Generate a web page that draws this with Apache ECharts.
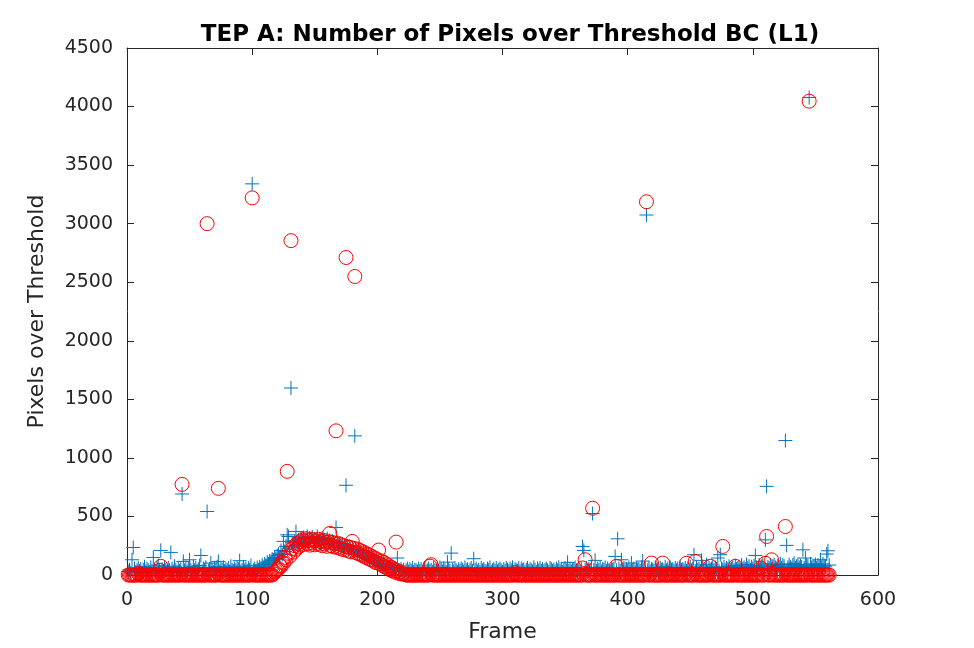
<!DOCTYPE html>
<html lang="en">
<head>
    <meta charset="UTF-8">
    <title>TEP A: Number of Pixels over Threshold BC (L1)</title>
    <script src="https://cdn.jsdelivr.net/npm/echarts@6/dist/echarts.min.js"></script>
    <style>
        html, body { margin: 0; padding: 0; background: #fff; }
        #chart { width: 974px; height: 648px; }
    </style>
</head>
<body>
    <div id="chart"></div>
    <script>
        // first frame number; values below are one per frame
        const firstFrame = 1;
        const xTicks = [0, 100, 200, 300, 400, 500, 600];
        const yTicks = [0, 500, 1000, 1500, 2000, 2500, 3000, 3500, 4000, 4500];

        // blue '+' series
        const bluePlus = [
            30, 45, 20, 130, 235, 55, 25, 40, 60, 35, 50, 20, 45, 70, 30, 55, 40, 25, 65, 35,          // 1-20
            150, 45, 30, 60, 80, 40, 210, 50, 35, 70, 45, 25, 60, 40, 193, 55, 30, 75, 45, 20,         // 21-40
            60, 35, 50, 692, 116, 40, 65, 30, 55, 130, 45, 25, 70, 40, 60, 35, 50, 80, 167, 30,        // 41-60
            55, 40, 65, 542, 35, 50, 102, 45, 25, 60, 40, 70, 116, 30, 55, 45, 65, 35, 50, 40,         // 61-80
            60, 30, 75, 45, 35, 55, 40, 65, 50, 122, 30, 45, 70, 40, 55, 35, 60, 45, 80, 3340,         // 81-100
            40, 55, 35, 65, 45, 70, 50, 85, 60, 95, 75, 110, 90, 120, 105, 135, 125, 150, 140, 165,    // 101-120
            180, 150, 210, 175, 287, 200, 245, 343, 329, 230, 1597, 275, 245, 290, 371, 260, 300, 270, 315, 285, // 121-140
            320, 280, 305, 330, 275, 315, 290, 325, 270, 310, 295, 330, 280, 305, 265, 315, 290, 300, 260, 310,  // 141-160
            280, 295, 255, 290, 270, 250, 406, 280, 240, 270, 235, 265, 225, 255, 766, 240, 215, 245, 205, 235,  // 161-180
            200, 1188, 215, 185, 205, 170, 195, 160, 185, 150, 170, 140, 160, 130, 150, 120, 135, 105, 125, 95,  // 181-200
            110, 85, 100, 75, 90, 65, 80, 60, 70, 50, 65, 45, 55, 60, 45, 145, 40, 35, 50, 30,         // 201-220
            45, 25, 40, 55, 30, 50, 35, 60, 25, 45, 40, 30, 55, 35, 50, 25, 45, 60, 30, 40,            // 221-240
            55, 35, 45, 25, 60, 40, 30, 50, 35, 65, 45, 30, 55, 40, 25, 110, 50, 35, 187, 45,          // 241-260
            30, 60, 40, 25, 50, 35, 55, 45, 30, 65, 40, 50, 25, 45, 60, 35, 139, 40, 55, 30,           // 261-280
            45, 25, 60, 40, 50, 35, 30, 55, 45, 65, 25, 40, 50, 35, 60, 30, 45, 55, 40, 25,            // 281-300
            50, 35, 60, 45, 30, 55, 40, 65, 25, 50, 45, 35, 60, 30, 55, 40, 50, 25, 45, 60,            // 301-320
            35, 50, 40, 30, 65, 45, 25, 55, 40, 60, 35, 50, 30, 45, 55, 40, 25, 60, 50, 35,            // 321-340
            45, 30, 55, 40, 65, 35, 50, 25, 45, 60, 40, 108, 35, 55, 30, 50, 45, 65, 40, 35,           // 341-360
            55, 30, 50, 244, 210, 45, 60, 35, 50, 40, 65, 525, 45, 125, 35, 55, 40, 60, 30, 50,        // 361-380
            45, 65, 35, 55, 40, 30, 60, 45, 50, 159, 40, 309, 55, 35, 130, 45, 60, 30, 50, 40,         // 381-400
            65, 35, 102, 45, 55, 30, 60, 40, 50, 35, 65, 119, 45, 55, 3074, 40, 60, 30, 50, 45,        // 401-420
            35, 65, 40, 55, 30, 60, 45, 50, 35, 70, 40, 55, 30, 65, 45, 50, 35, 60, 40, 55,            // 421-440
            30, 65, 45, 50, 40, 60, 35, 55, 45, 70, 40, 50, 173, 35, 60, 45, 55, 30, 125, 65,          // 441-460
            40, 50, 88, 35, 60, 45, 55, 70, 40, 65, 50, 145, 35, 173, 55, 45, 70, 40, 60, 50,          // 461-480
            75, 45, 55, 65, 40, 80, 50, 60, 70, 45, 85, 55, 65, 50, 90, 60, 75, 45, 70, 55,            // 481-500
            80, 167, 65, 50, 85, 60, 75, 95, 55, 300, 757, 70, 60, 85, 50, 75, 90, 65, 55, 80,         // 501-520
            70, 95, 60, 85, 75, 1148, 253, 65, 90, 70, 55, 85, 100, 60, 75, 90, 65, 80, 70, 215,       // 521-540
            60, 145, 85, 75, 4077, 95, 65, 80, 70, 90, 60, 85, 75, 130, 65, 95, 80, 70, 179, 207,      // 541-560
            85                                                                                          // 561
        ];

        // red 'o' series
        const redCircle = [
            0, 0, 0, 0, 0, 0, 0, 0, 15, 0, 0, 0, 0, 0, 0, 0, 0, 0, 0, 0,                 // 1-20
            0, 0, 0, 0, 0, 40, 74, 0, 0, 0, 0, 0, 0, 0, 0, 0, 0, 0, 0, 0,                // 21-40
            0, 0, 0, 774, 0, 0, 0, 0, 0, 0, 0, 0, 0, 0, 0, 0, 0, 0, 0, 0,                // 41-60
            0, 0, 0, 3000, 0, 0, 0, 0, 0, 0, 0, 0, 740, 0, 0, 0, 0, 0, 0, 0,             // 61-80
            0, 0, 0, 0, 0, 0, 0, 0, 0, 0, 0, 0, 0, 0, 0, 0, 0, 0, 0, 3220,               // 81-100
            0, 0, 0, 0, 0, 0, 0, 0, 0, 0, 0, 0, 0, 0, 0, 0, 10, 25, 35, 45,              // 101-120
            55, 80, 75, 110, 100, 150, 130, 885, 185, 160, 2855, 225, 195, 250, 220, 270, 240, 285, 255, 300, // 121-140
            262, 290, 310, 268, 295, 255, 305, 275, 300, 258, 292, 270, 305, 262, 288, 250, 296, 265, 280, 245, // 141-160
            285, 355, 250, 278, 240, 270, 1231, 235, 268, 228, 258, 220, 250, 215, 2711, 242, 205, 236, 198, 287, // 161-180
            228, 2549, 190, 222, 182, 210, 172, 200, 160, 190, 150, 178, 140, 168, 130, 155, 118, 145, 105, 132, // 181-200
            213, 95, 120, 82, 108, 70, 95, 58, 80, 45, 66, 35, 52, 25, 281, 38, 15, 25, 8, 12, // 201-220
            10, 5, 0, 0, 0, 0, 0, 0, 0, 0, 0, 0, 0, 0, 0, 0, 0, 0, 0, 0,                 // 221-240
            0, 76, 88, 0, 0, 0, 0, 0, 0, 0, 0, 0, 0, 0, 0, 0, 0, 0, 0, 0,                // 241-260
            0, 0, 0, 0, 0, 0, 0, 0, 0, 0, 0, 0, 0, 0, 0, 0, 0, 0, 0, 0,                  // 261-280
            0, 0, 0, 0, 0, 0, 0, 0, 0, 0, 0, 0, 0, 0, 0, 0, 0, 0, 0, 0,                  // 281-300
            0, 0, 0, 0, 0, 0, 0, 0, 0, 20, 0, 0, 0, 0, 0, 0, 0, 0, 0, 0,                 // 301-320
            0, 0, 0, 0, 0, 0, 0, 0, 0, 0, 0, 0, 0, 0, 0, 0, 0, 0, 0, 0,                  // 321-340
            0, 0, 0, 0, 0, 0, 0, 0, 0, 0, 0, 0, 0, 0, 0, 0, 0, 0, 0, 0,                  // 341-360
            0, 0, 0, 60, 0, 130, 0, 0, 0, 0, 0, 570, 0, 0, 0, 0, 0, 0, 0, 0,             // 361-380
            0, 0, 0, 0, 0, 0, 0, 0, 0, 0, 74, 0, 0, 0, 0, 0, 0, 0, 0, 0,                 // 381-400
            0, 0, 0, 0, 0, 0, 0, 0, 0, 0, 0, 0, 0, 0, 3187, 0, 0, 0, 102, 0,             // 401-420
            0, 0, 0, 0, 0, 0, 0, 102, 0, 0, 0, 0, 0, 0, 0, 0, 0, 0, 0, 0,                // 421-440
            0, 0, 0, 0, 0, 0, 100, 0, 0, 0, 0, 0, 0, 116, 0, 0, 0, 0, 0, 0,              // 441-460
            0, 0, 0, 0, 0, 74, 0, 0, 0, 0, 0, 0, 0, 0, 0, 244, 0, 0, 0, 0,               // 461-480
            0, 0, 0, 0, 0, 74, 0, 0, 0, 0, 0, 0, 0, 0, 0, 0, 0, 0, 0, 0,                 // 481-500
            0, 0, 0, 0, 0, 60, 0, 0, 0, 100, 329, 0, 0, 0, 130, 0, 0, 0, 0, 0,           // 501-520
            0, 0, 0, 0, 0, 414, 0, 0, 0, 0, 0, 0, 0, 0, 0, 0, 0, 0, 0, 0,                // 521-540
            0, 0, 0, 0, 4046, 0, 0, 0, 0, 0, 0, 0, 0, 0, 0, 0, 0, 0, 0, 0,               // 541-560
            0                                                                             // 561
        ];

        const axisColor = '#262626';
        const font = 'DejaVu Sans';

        function toPoints(values) {
            return values.map((v, i) => [firstFrame + i, v]);
        }

        const baseAxis = {
            axisLine: { show: true, onZero: false, lineStyle: { color: axisColor, width: 1 } },
            axisTick: { show: true, inside: true, length: 7, lineStyle: { color: axisColor } },
            splitLine: { show: false }
        };

        const chart = echarts.init(document.getElementById('chart'), null, { renderer: 'canvas' });
        chart.setOption({
            animation: false,
            backgroundColor: '#fff',
            title: {
                text: 'TEP A: Number of Pixels over Threshold BC (L1)',
                left: 505,
                textAlign: 'center',
                top: 19,
                textStyle: { fontFamily: font, fontSize: 23, fontWeight: 'bold', color: '#000' }
            },
            grid: { left: 127, right: 96, top: 48, bottom: 71 },
            xAxis: [
                Object.assign({}, baseAxis, {
                    type: 'value', min: xTicks[0], max: xTicks[xTicks.length - 1], interval: 100,
                    position: 'bottom',
                    name: 'Frame', nameLocation: 'middle', nameGap: 46,
                    nameTextStyle: { fontFamily: font, fontSize: 22, color: axisColor },
                    axisLabel: { fontFamily: font, fontSize: 19, color: axisColor, margin: 16,
                        formatter: v => String(v) }
                }),
                Object.assign({}, baseAxis, {
                    type: 'value', min: xTicks[0], max: xTicks[xTicks.length - 1], interval: 100,
                    position: 'top', axisLabel: { show: false }
                })
            ],
            yAxis: [
                Object.assign({}, baseAxis, {
                    type: 'value', min: yTicks[0], max: yTicks[yTicks.length - 1], interval: 500,
                    position: 'left',
                    name: 'Pixels over Threshold', nameLocation: 'middle', nameGap: 79,
                    nameTextStyle: { fontFamily: font, fontSize: 22, color: axisColor },
                    axisLabel: { fontFamily: font, fontSize: 19, color: axisColor, margin: 14,
                        formatter: v => String(v) }
                }),
                Object.assign({}, baseAxis, {
                    type: 'value', min: yTicks[0], max: yTicks[yTicks.length - 1], interval: 500,
                    position: 'right', axisLabel: { show: false }
                })
            ],
            series: [
                {
                    type: 'scatter',
                    data: toPoints(bluePlus),
                    symbol: 'path://M7,0L7,14M0,7L14,7',
                    symbolSize: 14,
                    progressive: 0,
                    itemStyle: { color: 'none', borderColor: '#0072BD', borderWidth: 1, opacity: 1 }
                },
                {
                    type: 'scatter',
                    data: toPoints(redCircle),
                    symbol: 'circle',
                    symbolSize: 14,
                    progressive: 0,
                    itemStyle: { color: 'none', borderColor: '#FF0000', borderWidth: 1, opacity: 1 }
                }
            ]
        });
    </script>
</body>
</html>
